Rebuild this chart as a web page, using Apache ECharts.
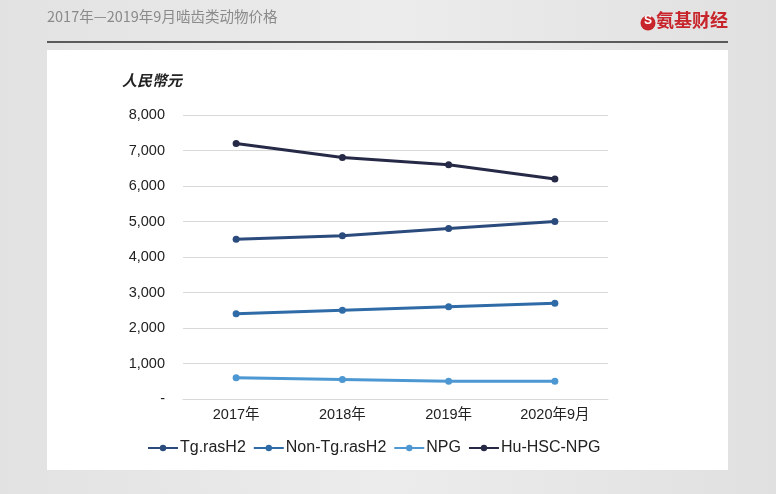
<!DOCTYPE html>
<html><head><meta charset="utf-8">
<script src="https://cdn.jsdelivr.net/npm/echarts@6/dist/echarts.min.js"></script>
<style>html,body{margin:0;padding:0;background:#e5e5e5;}#c{width:776px;height:494px;}</style>
</head><body><div id="c"></div>
<script>
const categories = ['2017年', '2018年', '2019年', '2020年9月'];
const tgRasH2 = [4500, 4600, 4800, 5000];
const nonTgRasH2 = [2400, 2500, 2600, 2700];
const npg = [600, 550, 500, 500];
const huHscNpg = [7200, 6800, 6600, 6200];
const seriesNames = ['Tg.rasH2', 'Non-Tg.rasH2', 'NPG', 'Hu-HSC-NPG'];
const seriesColors = ['#2b4b7d', '#2f6ba6', '#4d98d2', '#262a47'];
const seriesData = [tgRasH2, nonTgRasH2, npg, huHscNpg];

const chart = echarts.init(document.getElementById('c'));
const font = 'Helvetica, Arial, "Liberation Sans", "Noto Sans CJK SC", sans-serif';
chart.setOption({
  backgroundColor: {
    type: 'linear', x: 0, y: 0, x2: 1, y2: 0,
    colorStops: [{offset: 0, color: '#e2e2e2'}, {offset: 0.5, color: '#ececec'}, {offset: 1, color: '#e0e0e0'}]
  },
  animation: false,
  textStyle: {fontFamily: font},
  graphic: [
    {type: 'rect', shape: {x: 47, y: 50, width: 681, height: 420}, style: {fill: '#ffffff'}, z: -10},
    {type: 'rect', shape: {x: 47, y: 41, width: 681, height: 2}, style: {fill: '#5a5a5a'}, z: -10},
    {type: 'text', left: 47, top: 9, style: {text: '2017年—2019年9月啮齿类动物价格', fill: '#8a8a8a', font: '14.5px "Noto Sans CJK SC", sans-serif'}},
    {type: 'circle', shape: {cx: 648, cy: 23, r: 7.5}, style: {fill: '#c8242b'}},
    {type: 'text', left: 644, top: 15, style: {text: 'S', fill: '#ffffff', font: 'bold 12px sans-serif'}},
    {type: 'text', left: 656, top: 11, style: {text: '氨基财经', fill: '#c8242b', font: 'bold 18px "Noto Sans CJK SC", sans-serif'}},
    {type: 'text', left: 122, top: 73, style: {text: '人民幣元', fill: '#222', font: 'italic bold 15px "Noto Sans CJK SC", sans-serif'}}
  ],
  grid: {left: 183, right: 168, top: 115, bottom: 95},
  legend: {
    bottom: 33, left: 142, itemGap: 7, itemWidth: 30, itemHeight: 8,
    textStyle: {fontSize: 16, color: '#222', fontFamily: font, padding: [0, 0, 0, -3]},
    data: seriesNames
  },
  xAxis: {
    type: 'category', data: categories, boundaryGap: true,
    axisLine: {show: true, lineStyle: {color: '#d9d9d9'}},
    axisTick: {show: false},
    axisLabel: {fontSize: 14.5, color: '#222', margin: 9, fontFamily: font}
  },
  yAxis: {
    type: 'value', min: 0, max: 8000, interval: 1000,
    axisLine: {show: false}, axisTick: {show: false},
    splitLine: {lineStyle: {color: '#d9d9d9', width: 1}},
    axisLabel: {fontSize: 14.5, color: '#222', margin: 18, fontFamily: font,
      formatter: v => v === 0 ? '-' : v.toLocaleString('en-US')}
  },
  series: seriesNames.map((n, i) => ({
    name: n, type: 'line', data: seriesData[i],
    symbol: 'circle', symbolSize: 7,
    lineStyle: {width: 3, color: seriesColors[i]},
    itemStyle: {color: seriesColors[i]}
  }))
});
</script></body></html>
